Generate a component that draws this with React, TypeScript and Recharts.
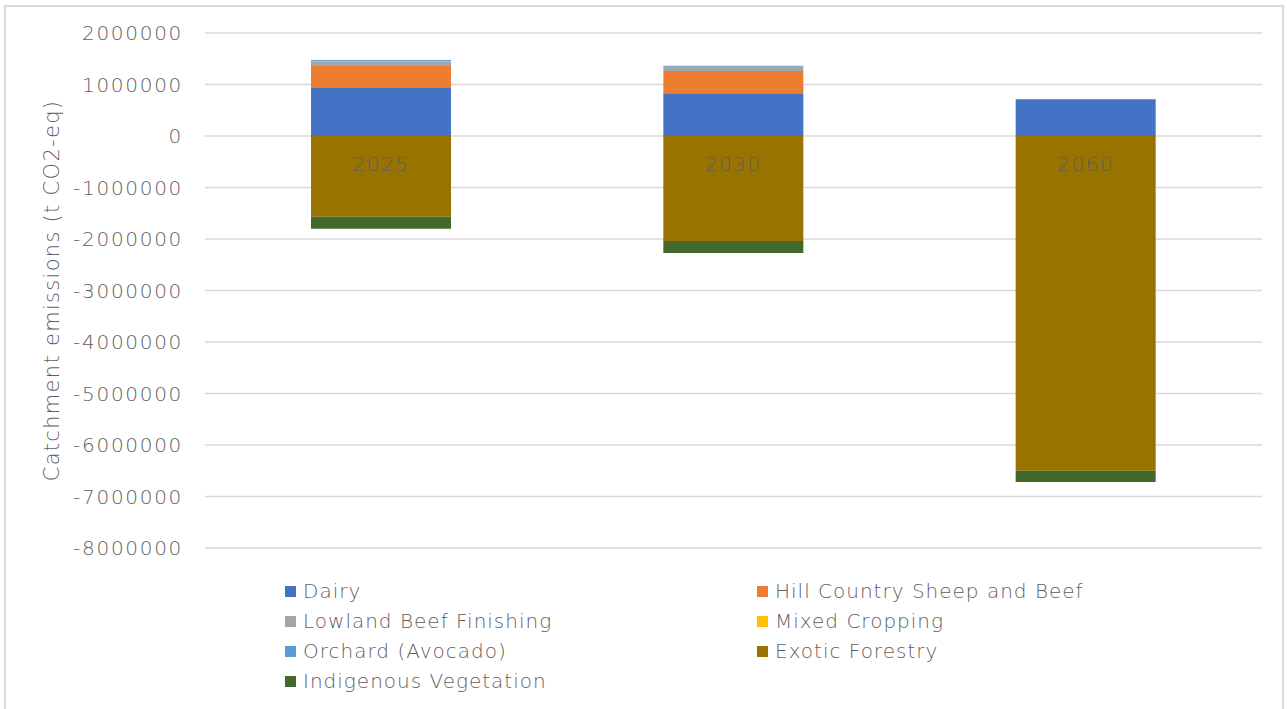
import React from "react";
import { BarChart, Bar, XAxis, YAxis, CartesianGrid, Legend, LabelList } from "recharts";

const years = ["2025", "2030", "2060"];
const dairy = [930000, 830000, 700000];
const hillCountry = [430000, 430000, 0];
const lowlandBeef = [90000, 80000, 0];
const mixedCropping = [5000, 5000, 0];
const orchard = [20000, 20000, 20000];
const exoticForestry = [-1570000, -2040000, -6500000];
const indigenousVeg = [-230000, -230000, -220000];
const yTicks = [2000000, 1000000, 0, -1000000, -2000000, -3000000, -4000000, -5000000, -6000000, -7000000, -8000000];

const series = [
  { key: "dairy", name: "Dairy", color: "#4472C4", values: dairy },
  { key: "hill", name: "Hill Country Sheep and Beef", color: "#ED7D31", values: hillCountry },
  { key: "lowland", name: "Lowland Beef Finishing", color: "#A5A5A5", values: lowlandBeef },
  { key: "mixed", name: "Mixed Cropping", color: "#FFC000", values: mixedCropping },
  { key: "orchard", name: "Orchard (Avocado)", color: "#5B9BD5", values: orchard },
  { key: "exotic", name: "Exotic Forestry", color: "#997300", values: exoticForestry },
  { key: "indigenous", name: "Indigenous Vegetation", color: "#43682B", values: indigenousVeg },
];

const data = years.map((y, i) => {
  const row: any = { year: y };
  series.forEach((s) => (row[s.key] = s.values[i]));
  return row;
});

const FONT = "'DejaVu Sans', sans-serif";
const TEXT = "#5f5f5f";
const WEIGHT = 300;

const YearLabel = (props: any) => {
  const vb = props.viewBox || {};
  const x = props.x ?? vb.x;
  const y = props.y ?? vb.y;
  const w = props.width ?? vb.width;
  const h = props.height ?? vb.height;
  const top = Math.min(y, y + h);
  return (
    <text x={x + w / 2} y={top + 28} textAnchor="middle" dominantBaseline="central" fill={TEXT} fontSize={20} fontFamily={FONT} fontWeight={WEIGHT} letterSpacing={1.5}>
      {props.value}
    </text>
  );
};

const LegendContent = () => (
  <div style={{ display: "grid", gridTemplateColumns: "472px 472px", rowGap: 0, fontFamily: FONT, fontSize: 20, fontWeight: WEIGHT, color: TEXT, letterSpacing: 1 }}>
    {series.map((s) => (
      <div key={s.key} style={{ display: "flex", alignItems: "center", height: 30, whiteSpace: "nowrap" }}>
        <span style={{ display: "inline-block", width: 11, height: 11, background: s.color, marginRight: 7 }} />
        <span>{s.name}</span>
      </div>
    ))}
  </div>
);

export default function App() {
  return (
    <div style={{ position: "absolute", left: 0, top: 0, width: 1287, height: 709, background: "#fff", overflow: "hidden" }}>
      <div style={{ position: "absolute", left: 4, top: 5, width: 1280, height: 720, border: "2px solid #d9d9d9", boxSizing: "border-box" }} />
      <BarChart
        width={1287}
        height={709}
        data={data}
        stackOffset="sign"
        margin={{ top: 33, right: 25, bottom: 41, left: 0 }}
        barSize={140}
      >
        <CartesianGrid vertical={false} stroke="#d9d9d9" strokeWidth={1.5} />
        <XAxis dataKey="year" hide />
        <YAxis
          width={205}
          domain={[-8000000, 2000000]}
          ticks={yTicks}
          interval={0}
          axisLine={false}
          tickLine={false}
          tickMargin={16}
          tick={{ fill: TEXT, fontSize: 20, fontFamily: FONT, fontWeight: WEIGHT, letterSpacing: 1.7 }}
          tickFormatter={(v: number) => String(v)}
          label={(p: any) => {
            const vb = p.viewBox || {};
            const cy = vb.y + vb.height / 2;
            return (
              <text x={52} y={cy} transform={`rotate(-90, 52, ${cy})`} textAnchor="middle" dominantBaseline="central" fill={TEXT} fontSize={21} fontFamily={FONT} fontWeight={WEIGHT} letterSpacing={1.3}>
                Catchment emissions (t CO2-eq)
              </text>
            );
          }}
        />
        <Legend
          content={LegendContent}
          wrapperStyle={{ position: "absolute", left: 285, top: 576, width: 1000 }}
        />
        {series.map((s) => (
          <Bar key={s.key} dataKey={s.key} name={s.name} stackId="a" fill={s.color} isAnimationActive={false}>
            {s.key === "exotic" ? <LabelList dataKey="year" content={YearLabel} /> : null}
          </Bar>
        ))}
      </BarChart>
    </div>
  );
}
